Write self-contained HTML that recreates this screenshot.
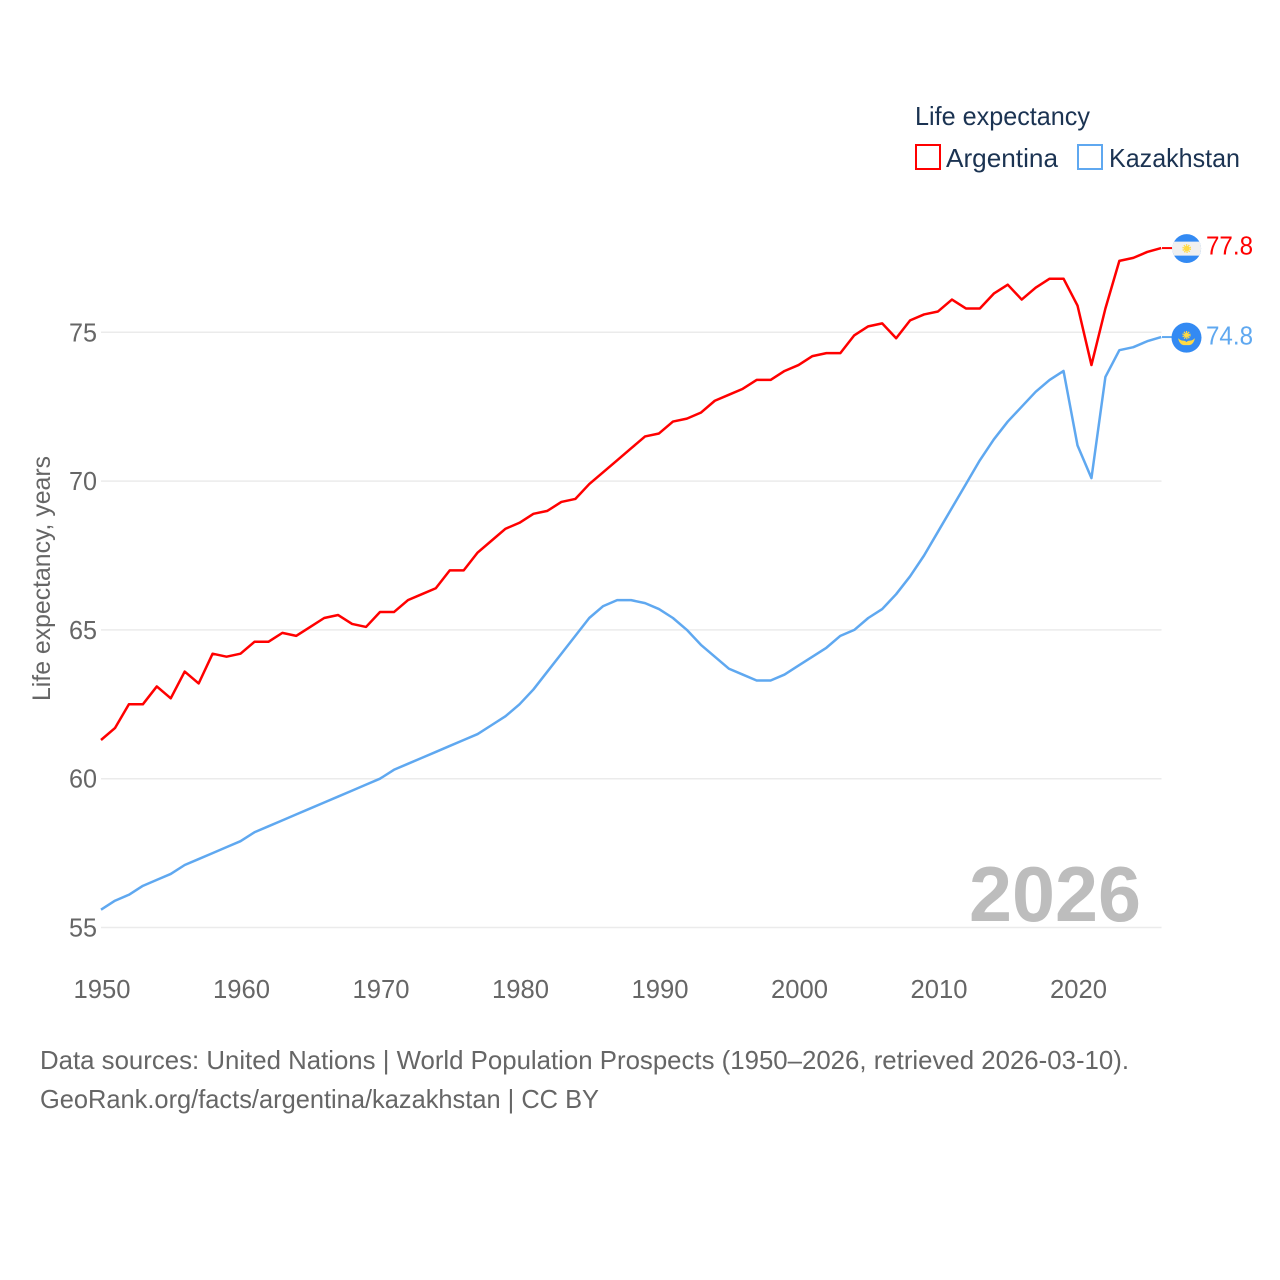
<!DOCTYPE html>
<html lang="en">
<head>
<meta charset="utf-8">
<title>Life expectancy: Argentina and Kazakhstan</title>
<style>
html,body{margin:0;padding:0;background:#fff;width:1280px;height:1280px;overflow:hidden}
svg{display:block}
text{font-family:"Liberation Sans",sans-serif}
</style>
</head>
<body>
<svg id="chart" xmlns="http://www.w3.org/2000/svg" width="1280" height="1280" viewBox="0 0 1280 1280">
  <rect x="0" y="0" width="1280" height="1280" fill="#fff"/>
  <g id="grid"></g>
  <g id="y-ticks"></g>
  <g id="x-ticks"></g>
  <text transform="translate(50,701) rotate(-90)" font-size="25" fill="#666" textLength="245" lengthAdjust="spacingAndGlyphs">Life expectancy, years</text>
  <text x="969" y="921" font-size="78" font-weight="700" fill="#bdbdbd" textLength="172" lengthAdjust="spacingAndGlyphs">2026</text>
  <g id="series"></g>

  <g id="flag-argentina">
    <circle r="14.4" fill="#338af3"/>
    <path d="M-12.6,-7 H12.6 A14.4,14.4 0 0 1 12.6,7 H-12.6 A14.4,14.4 0 0 1 -12.6,-7 Z" fill="#f0f0f0"/>
    <circle r="2.8" fill="#ffda44"/>
    <circle r="3.6" fill="none" stroke="#ffda44" stroke-width="1.6" stroke-dasharray="1.3 1"/>
  </g>
  <g id="flag-kazakhstan">
    <circle r="15" fill="#338af3"/>
    <circle cy="-2.5" r="2.6" fill="#ffda44"/>
    <circle cy="-2.5" r="3.4" fill="none" stroke="#ffda44" stroke-width="1.5" stroke-dasharray="1.2 1"/>
    <path d="M-8.5,0.5 Q-6,3 -3.5,3 Q-1,3 0,4.5 Q1,3 3.5,3 Q6,3 8.5,0.5 Q7,7 3,7.5 H-3 Q-7,7 -8.5,0.5 Z" fill="#ffda44"/>
  </g>
  <g id="value-labels"></g>

  <g>
    <text x="915" y="125" font-size="26" fill="#1b3352" textLength="175" lengthAdjust="spacingAndGlyphs">Life expectancy</text>
    <g>
      <rect x="916" y="145" width="24" height="24" fill="#fff" stroke="#ff0000" stroke-width="2"/>
      <text x="946" y="167" font-size="26" fill="#1b3352" textLength="112" lengthAdjust="spacingAndGlyphs">Argentina</text>
    </g>
    <g>
      <rect x="1078" y="145" width="24" height="24" fill="#fff" stroke="#5fa8f0" stroke-width="2"/>
      <text x="1109" y="167" font-size="26" fill="#1b3352" textLength="131" lengthAdjust="spacingAndGlyphs">Kazakhstan</text>
    </g>
  </g>

  <text x="40" y="1069" font-size="26" fill="#666" textLength="1089" lengthAdjust="spacingAndGlyphs">Data sources: United Nations | World Population Prospects (1950–2026, retrieved 2026-03-10).</text>
  <text x="40" y="1108" font-size="26" fill="#666" textLength="559" lengthAdjust="spacingAndGlyphs">GeoRank.org/facts/argentina/kazakhstan | CC BY</text>
</svg>
<script>
const years = [1950,1951,1952,1953,1954,1955,1956,1957,1958,1959,1960,1961,1962,1963,1964,1965,1966,1967,1968,1969,1970,1971,1972,1973,1974,1975,1976,1977,1978,1979,1980,1981,1982,1983,1984,1985,1986,1987,1988,1989,1990,1991,1992,1993,1994,1995,1996,1997,1998,1999,2000,2001,2002,2003,2004,2005,2006,2007,2008,2009,2010,2011,2012,2013,2014,2015,2016,2017,2018,2019,2020,2021,2022,2023,2024,2025,2026];
const argentinaValues = [61.3,61.7,62.5,62.5,63.1,62.7,63.6,63.2,64.2,64.1,64.2,64.6,64.6,64.9,64.8,65.1,65.4,65.5,65.2,65.1,65.6,65.6,66.0,66.2,66.4,67.0,67.0,67.6,68.0,68.4,68.6,68.9,69.0,69.3,69.4,69.9,70.3,70.7,71.1,71.5,71.6,72.0,72.1,72.3,72.7,72.9,73.1,73.4,73.4,73.7,73.9,74.2,74.3,74.3,74.9,75.2,75.3,74.8,75.4,75.6,75.7,76.1,75.8,75.8,76.3,76.6,76.1,76.5,76.8,76.8,75.9,73.9,75.8,77.4,77.5,77.7,77.83];
const kazakhstanValues = [55.6,55.9,56.1,56.4,56.6,56.8,57.1,57.3,57.5,57.7,57.9,58.2,58.4,58.6,58.8,59.0,59.2,59.4,59.6,59.8,60.0,60.3,60.5,60.7,60.9,61.1,61.3,61.5,61.8,62.1,62.5,63.0,63.6,64.2,64.8,65.4,65.8,66.0,66.0,65.9,65.7,65.4,65.0,64.5,64.1,63.7,63.5,63.3,63.3,63.5,63.8,64.1,64.4,64.8,65.0,65.4,65.7,66.2,66.8,67.5,68.3,69.1,69.9,70.7,71.4,72.0,72.5,73.0,73.4,73.7,71.2,70.1,73.5,74.4,74.5,74.7,74.84];
const xTickLabels = [1950,1960,1970,1980,1990,2000,2010,2020];
const yTickLabels = [55,60,65,70,75];

const SVG_NS = 'http://www.w3.org/2000/svg';
const x = function (year) { return 101 + (year - 1950) * 13.95; };
const y = function (value) { return 927.5 - (value - 55) * 29.76; };
const plotRight = 1161.5;

function make(tag, parentId) {
  const el = document.createElementNS(SVG_NS, tag);
  document.getElementById(parentId).appendChild(el);
  return el;
}

yTickLabels.forEach(function (tick) {
  const line = make('line', 'grid');
  
  
  line.setAttribute('x1', x(1950));
  line.setAttribute('x2', plotRight);
  line.setAttribute('y1', y(tick));
  line.setAttribute('y2', y(tick));
  line.setAttribute('stroke', '#ebebeb');
  line.setAttribute('stroke-width', '1.5');

  const label = make('text', 'y-ticks');
  
  
  label.setAttribute('x', 97);
  label.setAttribute('y', y(tick) + 9);
  label.setAttribute('text-anchor', 'end');
  label.setAttribute('font-size', '26');
  label.setAttribute('fill', '#666');
  label.setAttribute('textLength', '28');
  label.setAttribute('lengthAdjust', 'spacingAndGlyphs');
  label.textContent = tick;
});

xTickLabels.forEach(function (tick) {
  const label = make('text', 'x-ticks');
  
  
  label.setAttribute('x', x(tick) - 27.5);
  label.setAttribute('y', 998);
  label.setAttribute('font-size', '26');
  label.setAttribute('fill', '#666');
  label.setAttribute('textLength', '57');
  label.setAttribute('lengthAdjust', 'spacingAndGlyphs');
  label.textContent = tick;
});

function linePath(values) {
  return values.map(function (value, i) {
    return (i ? 'L' : 'M') + x(years[i]).toFixed(2) + ',' + y(value).toFixed(2);
  }).join(' ');
}

const argentinaLine = make('path', 'series');


argentinaLine.setAttribute('d', linePath(argentinaValues));
argentinaLine.setAttribute('fill', 'none');
argentinaLine.setAttribute('stroke', '#ff0000');
argentinaLine.setAttribute('stroke-width', '2.5');
argentinaLine.setAttribute('stroke-linejoin', 'round');

const kazakhstanLine = make('path', 'series');


kazakhstanLine.setAttribute('d', linePath(kazakhstanValues));
kazakhstanLine.setAttribute('fill', 'none');
kazakhstanLine.setAttribute('stroke', '#5fa8f0');
kazakhstanLine.setAttribute('stroke-width', '2.5');
kazakhstanLine.setAttribute('stroke-linejoin', 'round');

const lastIndex = years.length - 1;
const lastArgentina = argentinaValues[lastIndex];
const lastKazakhstan = kazakhstanValues[lastIndex];

const argentinaConnector = make('line', 'series');


argentinaConnector.setAttribute('x1', 1162);
argentinaConnector.setAttribute('x2', 1172);
argentinaConnector.setAttribute('y1', y(lastArgentina));
argentinaConnector.setAttribute('y2', y(lastArgentina));
argentinaConnector.setAttribute('stroke', '#ff0000');
argentinaConnector.setAttribute('stroke-width', '2');

const kazakhstanConnector = make('line', 'series');


kazakhstanConnector.setAttribute('x1', 1162);
kazakhstanConnector.setAttribute('x2', 1172);
kazakhstanConnector.setAttribute('y1', y(lastKazakhstan));
kazakhstanConnector.setAttribute('y2', y(lastKazakhstan));
kazakhstanConnector.setAttribute('stroke', '#5fa8f0');
kazakhstanConnector.setAttribute('stroke-width', '2');

document.getElementById('flag-argentina').setAttribute('transform', 'translate(1186.7,' + (y(lastArgentina) + 0.5) + ')');
document.getElementById('flag-kazakhstan').setAttribute('transform', 'translate(1186.5,' + (y(lastKazakhstan) + 0.6) + ')');

const argentinaLabel = make('text', 'value-labels');


argentinaLabel.setAttribute('x', 1206);
argentinaLabel.setAttribute('y', y(lastArgentina) + 6.5);
argentinaLabel.setAttribute('font-size', '26');
argentinaLabel.setAttribute('fill', '#ff0000');
argentinaLabel.setAttribute('textLength', '47');
argentinaLabel.setAttribute('lengthAdjust', 'spacingAndGlyphs');
argentinaLabel.textContent = lastArgentina.toFixed(1);

const kazakhstanLabel = make('text', 'value-labels');


kazakhstanLabel.setAttribute('x', 1206);
kazakhstanLabel.setAttribute('y', y(lastKazakhstan) + 7.5);
kazakhstanLabel.setAttribute('font-size', '26');
kazakhstanLabel.setAttribute('fill', '#5fa8f0');
kazakhstanLabel.setAttribute('textLength', '47');
kazakhstanLabel.setAttribute('lengthAdjust', 'spacingAndGlyphs');
kazakhstanLabel.textContent = lastKazakhstan.toFixed(1);
</script>
</body>
</html>
